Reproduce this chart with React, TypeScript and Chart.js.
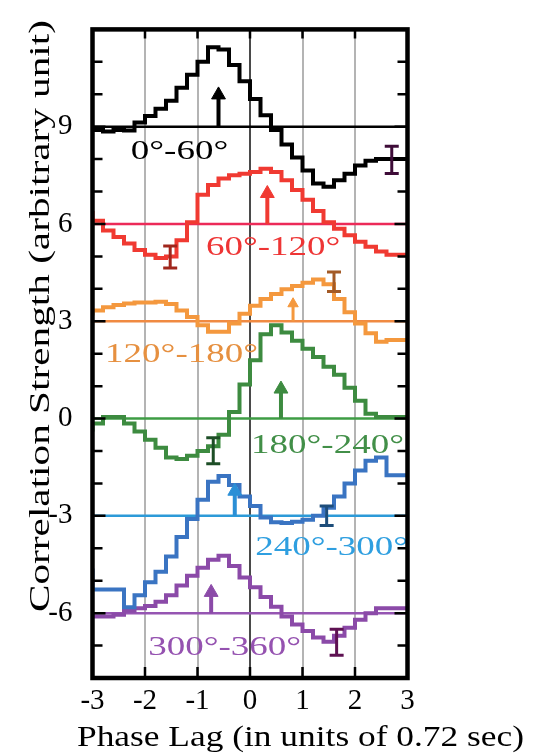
import React, { useEffect, useRef } from 'react';
import { Chart, registerables } from 'chart.js';

Chart.register(...registerables);

// Phase-lag bin edges (units of 0.72 s); each curve value covers [edge_i, edge_i+1)
const lagEdges = [
  -3, -2.8, -2.6, -2.4, -2.2, -2, -1.8, -1.6, -1.4, -1.2, -1, -0.8, -0.6, -0.4, -0.2,
  0, 0.2, 0.4, 0.6, 0.8, 1, 1.2, 1.4, 1.6, 1.8, 2, 2.2, 2.4, 2.6, 2.8, 3,
];

// Correlation strength per bin, each phase band offset by its own baseline
const corr0to60 = [
  9.0, 8.9, 8.85, 8.9, 8.88, 9.13, 9.33, 9.55, 9.8, 10.2, 10.6, 11.0, 11.45, 11.38, 10.9,
  10.4, 9.85, 9.35, 8.9, 8.45, 8.05, 7.65, 7.25, 7.15, 7.35, 7.55, 7.8, 7.95, 8.0, 8.0,
];
const corr60to120 = [
  6.4, 6.1, 5.8, 5.6, 5.4, 5.2, 5.05, 4.95, 5.0, 5.5, 6.05, 6.9, 7.2, 7.4, 7.5,
  7.55, 7.6, 7.7, 7.6, 7.35, 7.05, 6.75, 6.4, 6.05, 5.85, 5.65, 5.45, 5.3, 5.15, 5.05,
];
const corr120to180 = [
  3.18, 3.33, 3.43, 3.5, 3.55, 3.58, 3.58, 3.6, 3.53, 3.33, 3.13, 2.88, 2.68, 2.68, 2.93,
  3.23, 3.48, 3.69, 3.84, 3.99, 4.09, 4.19, 4.29, 4.14, 3.69, 3.28, 2.93, 2.63, 2.37, 2.42,
];
const corr180to240 = [
  -0.4, -0.15, 0.05, 0.05, -0.15, -0.4, -0.65, -0.9, -1.2, -1.25, -1.15, -1.0, -0.85, -0.5, 0.2,
  1.05, 1.8, 2.6, 2.88, 2.65, 2.4, 2.15, 1.9, 1.6, 1.35, 0.95, 0.55, 0.15, 0.05, 0.05,
];
const corr240to300 = [
  -4.62, -5.27, -5.27, -5.27, -5.82, -5.45, -5.05, -4.72, -4.25, -3.65, -3.1, -2.5, -1.95, -1.77, -2.05,
  -2.4, -2.7, -3.05, -3.2, -3.22, -3.18, -3.12, -3.0, -2.75, -2.4, -2.0, -1.6, -1.3, -1.2, -1.75,
];
const corr300to360 = [
  -6.05, -6.1, -6.1, -6.05, -5.93, -5.85, -5.78, -5.65, -5.45, -5.15, -4.85, -4.6, -4.35, -4.23, -4.55,
  -4.9, -5.2, -5.5, -5.8, -6.1, -6.35, -6.55, -6.75, -6.88, -6.7, -6.45, -6.2, -6.0, -5.85, -5.85,
];

const bandSeries = [corr0to60, corr60to120, corr120to180, corr180to240, corr240to300, corr300to360];
const bandNames = ['0°-60°', '60°-120°', '120°-180°', '180°-240°', '240°-300°', '300°-360°'];
const bandBaselines = [9, 6, 3, 0, -3, -6];

// Peak-lag arrows: lag position and arrow-head centre level
const arrowLag = [-0.6, 0.33, 0.82, 0.59, -0.29, -0.74];
const arrowHead = [9.98, 6.94, 3.54, 0.91, -2.24, -5.36];

// Representative error bars
const errLag = [2.7, -1.52, 1.6, -0.7, 1.46, 1.65];
const errMid = [7.98, 4.98, 4.22, -0.99, -3.0, -6.9];
const errHalf = [0.42, 0.34, 0.3, 0.4, 0.3, 0.4];

// Band name placement (left edge lag, text baseline level)
const nameLag = [-2.27, -0.84, -2.76, 0.02, 0.1, -1.94];
const nameLevel = [8.0, 5.03, 1.75, -1.06, -4.22, -7.3];

const xTickLabels = [-3, -2, -1, 0, 1, 2, 3];
const yTickLabels = [9, 6, 3, 0, -3, -6];

const curveColors = ['#000000', '#f03a32', '#f4983e', '#3d8b40', '#3a74c2', '#8b4aa8'];
const baseColors = ['#000000', '#ec2a58', '#f08a42', '#3e9c44', '#2c9ad8', '#9555b2'];
const nameColors = ['#000000', '#ee3535', '#e69040', '#428f48', '#2f9fe0', '#9552b0'];
const errColors = ['#3e0c38', '#a0261c', '#a35a26', '#1d4e26', '#1d4d7a', '#5e1152'];
const arrowColors = ['#000000', '#f03a32', '#f4983e', '#3d8b40', '#2b8fd6', '#8b4aa8'];

const SERIF = '"Liberation Serif", "Times New Roman", Times, serif';

const overlay = {
  id: 'overlay',
  afterDatasetsDraw(chart: any) {
    const { ctx, chartArea: a, scales } = chart;
    const xs = scales.x;
    const ys = scales.y;

    // band names, clipped to the plot frame
    ctx.save();
    ctx.beginPath();
    ctx.rect(a.left, a.top, a.right - a.left, a.bottom - a.top);
    ctx.clip();
    ctx.font = `27px ${SERIF}`;
    ctx.textAlign = 'left';
    ctx.textBaseline = 'alphabetic';
    bandNames.forEach((name, i) => {
      const px = xs.getPixelForValue(nameLag[i]);
      const py = ys.getPixelForValue(nameLevel[i]);
      ctx.save();
      ctx.translate(px, py);
      ctx.scale(1.37, 1);
      ctx.fillStyle = nameColors[i];
      ctx.fillText(name, 0, 0);
      ctx.restore();
    });
    ctx.restore();

    // frame and inward tick marks
    ctx.save();
    ctx.strokeStyle = '#000';
    ctx.lineWidth = 2.5;
    ctx.beginPath();
    for (let v = -8; v <= 12; v++) {
      const py = ys.getPixelForValue(v);
      const len = v % 3 === 0 ? 13 : 10;
      ctx.moveTo(a.left, py);
      ctx.lineTo(a.left + len, py);
      ctx.moveTo(a.right, py);
      ctx.lineTo(a.right - len, py);
    }
    for (let v = -2; v <= 2; v++) {
      const px = xs.getPixelForValue(v);
      ctx.moveTo(px, a.top);
      ctx.lineTo(px, a.top + 9);
      ctx.moveTo(px, a.bottom);
      ctx.lineTo(px, a.bottom - 11);
    }
    ctx.stroke();
    ctx.lineWidth = 4.5;
    ctx.strokeRect(a.left, a.top, a.right - a.left, a.bottom - a.top);
    ctx.restore();
  },
  afterDraw(chart: any) {
    const { ctx } = chart;
    ctx.save();
    ctx.fillStyle = '#000';
    ctx.textAlign = 'center';

    // x-axis title
    const xTitle = 'Phase Lag (in units of 0.72 sec)';
    ctx.font = `29px ${SERIF}`;
    ctx.textBaseline = 'alphabetic';
    const wx = ctx.measureText(xTitle).width;
    ctx.save();
    ctx.translate(300.5, 746);
    ctx.scale(447 / wx, 1);
    ctx.fillText(xTitle, 0, 0);
    ctx.restore();

    // y-axis title
    const yTitle = 'Correlation Strength (arbitrary unit)';
    ctx.font = `30px ${SERIF}`;
    ctx.textBaseline = 'middle';
    const wy = ctx.measureText(yTitle).width;
    ctx.save();
    ctx.translate(41, 316);
    ctx.rotate(-Math.PI / 2);
    ctx.scale(592 / wy, 1);
    ctx.fillText(yTitle, 0, 0);
    ctx.restore();

    ctx.restore();
  },
};

export default function App() {
  const canvasRef = useRef<HTMLCanvasElement>(null);

  useEffect(() => {
    const canvas = canvasRef.current;
    if (!canvas) return;
    let alive = true;

    const datasets: any[] = [];

    bandSeries.forEach((vals, i) => {
      // zero-level reference line for the band
      datasets.push({
        data: [
          { x: lagEdges[0], y: bandBaselines[i] },
          { x: lagEdges[lagEdges.length - 1], y: bandBaselines[i] },
        ],
        borderColor: baseColors[i],
        borderWidth: 2.5,
        pointRadius: 0,
        order: 4,
      });
      // stepped correlation histogram
      datasets.push({
        data: lagEdges.map((x, k) => ({ x, y: vals[Math.min(k, vals.length - 1)] })),
        borderColor: curveColors[i],
        borderWidth: 4,
        stepped: 'after',
        pointRadius: 0,
        order: 3,
      });
      // peak-lag arrow
      datasets.push({
        data: [
          { x: arrowLag[i], y: bandBaselines[i] },
          { x: arrowLag[i], y: arrowHead[i] },
        ],
        borderColor: arrowColors[i],
        borderWidth: i === 2 ? 3 : 4,
        pointStyle: 'triangle',
        pointRadius: [0, i === 2 ? 6 : 8],
        pointBackgroundColor: arrowColors[i],
        pointBorderColor: arrowColors[i],
        pointBorderWidth: 1,
        order: 2,
      });
      // error bar with caps
      datasets.push({
        data: [
          { x: errLag[i], y: errMid[i] - errHalf[i] },
          { x: errLag[i], y: errMid[i] + errHalf[i] },
        ],
        borderColor: errColors[i],
        borderWidth: 3,
        pointStyle: 'line',
        pointRadius: 7,
        pointBorderColor: errColors[i],
        pointBorderWidth: 3,
        order: 1,
      });
    });

    const chart = new Chart(canvas, {
      type: 'line',
      data: { datasets },
      options: {
        animation: false,
        responsive: false,
        devicePixelRatio: 1,
        layout: { padding: { left: 0, right: 137.5, top: 8.5, bottom: 0 } },
        plugins: { legend: { display: false }, tooltip: { enabled: false } },
        events: [],
        scales: {
          x: {
            type: 'linear',
            min: -3,
            max: 3,
            afterFit: (s: any) => {
              s.height = 75;
            },
            grid: {
              drawTicks: false,
              lineWidth: 2,
              color: (c: any) => {
                const v = c.tick ? c.tick.value : null;
                if (v === 0) return '#4a4a4a';
                if (v === -3 || v === 3) return 'rgba(0,0,0,0)';
                return '#b4b4b4';
              },
            },
            border: { display: false },
            ticks: {
              stepSize: 1,
              autoSkip: false,
              maxRotation: 0,
              padding: 6,
              color: '#000',
              font: { family: SERIF, size: 29 },
              callback: (v: any) => (xTickLabels.includes(v) ? String(v) : ''),
            },
          },
          y: {
            type: 'linear',
            min: -8,
            max: 12,
            afterFit: (s: any) => {
              s.width = 92.5;
            },
            grid: { display: false },
            border: { display: false },
            ticks: {
              stepSize: 1,
              autoSkip: false,
              padding: 12,
              color: '#000',
              font: { family: SERIF, size: 29 },
              callback: (v: any) => (yTickLabels.includes(v) ? String(v) : ''),
            },
          },
        },
      },
      plugins: [overlay],
    });

    // redraw once the serif face is ready so every label uses it
    const fontSet = (document as any).fonts;
    if (fontSet && fontSet.load) {
      Promise.all([
        fontSet.load('27px "Liberation Serif"'),
        fontSet.load('29px "Liberation Serif"'),
      ])
        .then(() => {
          if (alive) chart.update();
        })
        .catch(() => {});
    }

    return () => {
      alive = false;
      chart.destroy();
    };
  }, []);

  return (
    <div style={{ position: 'absolute', left: 0, top: 0, width: 545, height: 753, background: '#ffffff' }}>
      <canvas ref={canvasRef} width={545} height={753} style={{ display: 'block', width: 545, height: 753 }} />
    </div>
  );
}
